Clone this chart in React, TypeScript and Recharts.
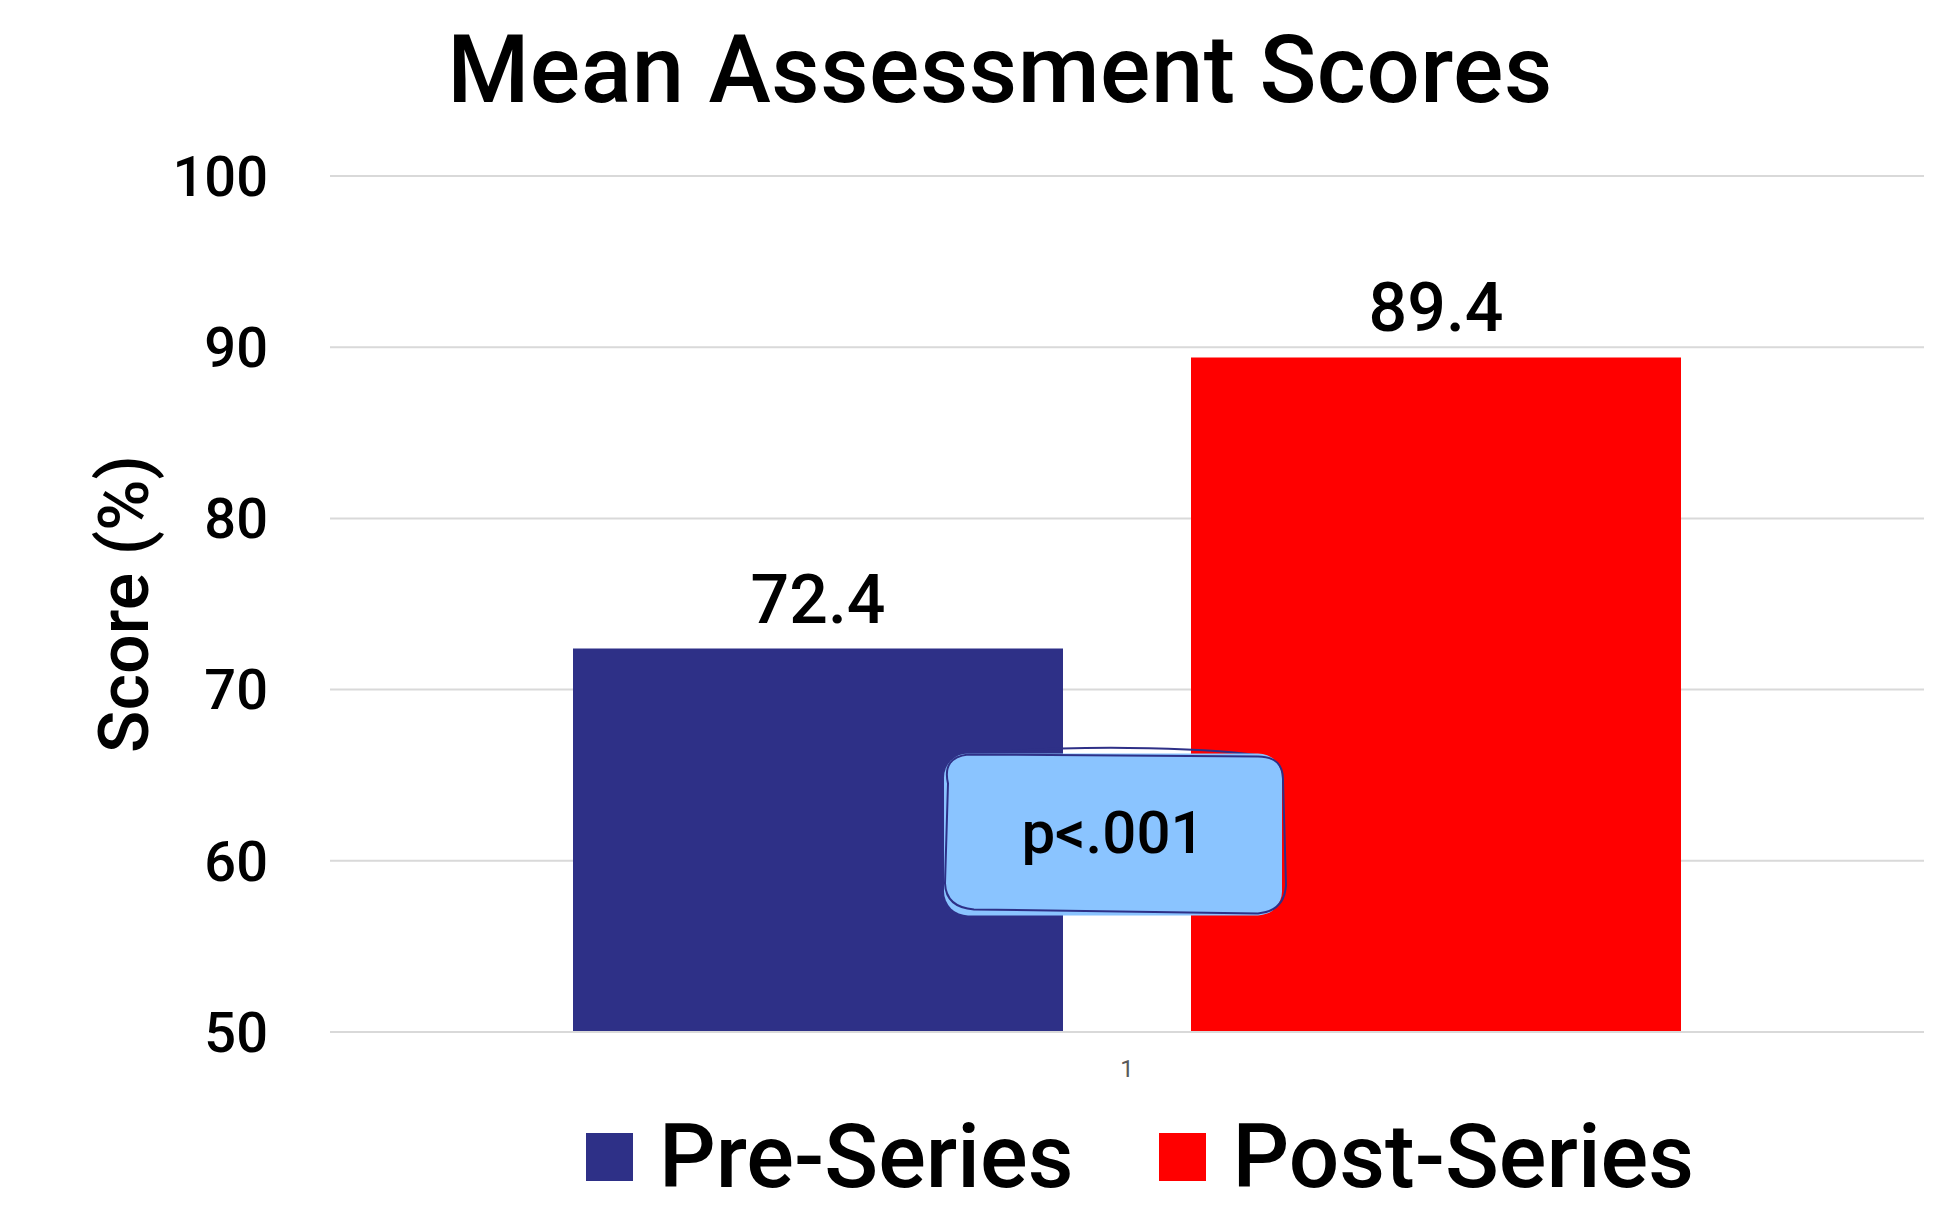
import React from "react";
import {
  BarChart, Bar, XAxis, YAxis, CartesianGrid, LabelList, ReferenceDot,
} from "recharts";

const categories = ["1"];
const seriesNames = ["Pre-Series", "Post-Series"];
const seriesColors = ["#2E3087", "#FF0000"];
const preScores = [72.4];
const postScores = [89.4];
const yTicks = [50, 60, 70, 80, 90, 100];
const pLabel = "p<.001";
const pLabelY = 61.6;

const FONT = "Roboto, 'Noto Sans', sans-serif";

const data = categories.map((c, i) => ({ name: c, pre: preScores[i], post: postScores[i] }));

function PBox(props: any) {
  const { cx, cy } = props;
  const x = cx - 14 - 169;
  const y = cy - 80;
  const w = 338;
  const h = 162;
  return (
    <g>
      <path
        d={`M${x + 20},${y + 2} C${x + 120},${y - 10} ${x + 260},${y - 6} ${x + w - 22},${y + 2}`}
        fill="none" stroke="#2E3087" strokeWidth={2}
      />
      <rect x={x} y={y} width={w} height={h} rx={24} ry={24} fill="#8AC4FF" />
      <path
        d={`M${x + 24},${y + 1} L${x + w - 24},${y + 3} Q${x + w + 2},${y + 3} ${x + w + 1},${y + 28}
           L${x + w + 4},${y + h - 30} Q${x + w + 2},${y + h - 4} ${x + w - 24},${y + h - 2}
           L${x + 30},${y + h - 6} Q${x + 2},${y + h - 8} ${x + 1},${y + h - 32}
           L${x + 4},${y + 30} Q${x - 2},${y + 4} ${x + 24},${y + 1}`}
        fill="none" stroke="#2E3087" strokeWidth={2}
      />
      <text x={x + w / 2} y={cy + 20} textAnchor="middle" fontFamily={FONT} fontSize={60} fontWeight={500} fill="#000">
        {pLabel}
      </text>
    </g>
  );
}

export default function App() {
  return (
    <div style={{ position: "fixed", left: 0, top: 0, width: 1934, height: 1207, background: "#fff", fontFamily: FONT }}>
      <div style={{ position: "absolute", left: 0, width: 2000, top: 20, textAlign: "center", fontSize: 94, fontWeight: 500, lineHeight: "100px", color: "#000", letterSpacing: 0.5 }}>
        Mean Assessment Scores
      </div>
      <BarChart
        width={1934}
        height={1207}
        data={data}
        margin={{ top: 176, right: 10, bottom: 115, left: 0 }}
        barSize={490}
        barGap={128}
        style={{ position: "absolute", left: 0, top: 0 }}
      >
        <CartesianGrid vertical={false} stroke="#d9d9d9" strokeWidth={2} />
        <XAxis
          dataKey="name"
          height={60}
          axisLine={{ stroke: "#d9d9d9", strokeWidth: 2 }}
          tickLine={false}
          tickMargin={22}
          tick={{ fill: "#595959", fontSize: 24, fontFamily: FONT }}
        />
        <YAxis
          width={330}
          domain={[50, 100]}
          ticks={yTicks}
          axisLine={false}
          tickLine={false}
          tickMargin={56}
          tick={{ fill: "#000", fontSize: 56, fontWeight: 500, fontFamily: FONT }}
          label={{ value: "Score (%)", angle: -90, position: "insideLeft", dx: 118, fill: "#000", fontSize: 70, fontWeight: 500, fontFamily: FONT, style: { textAnchor: "middle" } }}
        />
        <Bar dataKey="pre" name={seriesNames[0]} fill={seriesColors[0]} isAnimationActive={false}>
          <LabelList dataKey="pre" position="top" offset={26} fill="#000" fontSize={68} fontWeight={500} fontFamily={FONT} />
        </Bar>
        <Bar dataKey="post" name={seriesNames[1]} fill={seriesColors[1]} isAnimationActive={false}>
          <LabelList dataKey="post" position="top" offset={26} fill="#000" fontSize={68} fontWeight={500} fontFamily={FONT} />
        </Bar>
        <ReferenceDot x={categories[0]} y={pLabelY} r={0} shape={PBox} ifOverflow="visible" />
      </BarChart>
      <div style={{ position: "absolute", top: 1108, left: 0, width: 2280, display: "flex", justifyContent: "center", gap: 86 }}>
        {seriesNames.map((n, i) => (
          <div key={n} style={{ display: "flex", alignItems: "center", gap: 26 }}>
            <div style={{ width: 47, height: 48, background: seriesColors[i] }} />
            <span style={{ fontSize: 89, lineHeight: "98px", color: "#000", fontWeight: 500 }}>{n}</span>
          </div>
        ))}
      </div>
    </div>
  );
}
